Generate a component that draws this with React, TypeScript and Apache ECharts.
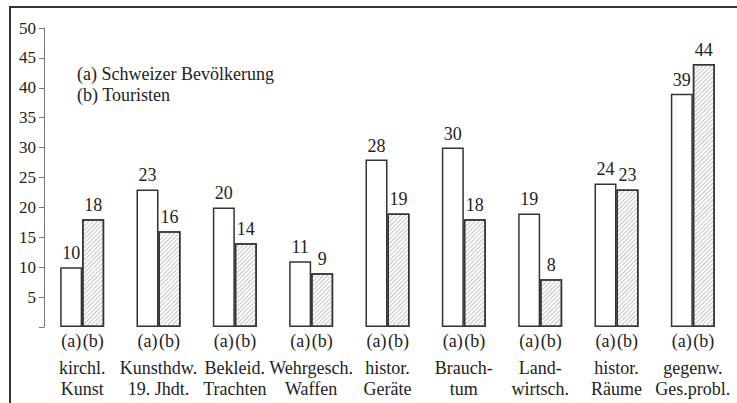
import React, { useEffect, useRef } from 'react';
import * as echarts from 'echarts';

const categories = [
  'kirchl.\nKunst',
  'Kunsthdw.\n19. Jhdt.',
  'Bekleid.\nTrachten',
  'Wehrgesch.\nWaffen',
  'histor.\nGeräte',
  'Brauch-\ntum',
  'Land-\nwirtsch.',
  'histor.\nRäume',
  'gegenw.\nGes.probl.',
];
const seriesA = [10, 23, 20, 11, 28, 30, 19, 24, 39];
const seriesB = [18, 16, 14, 9, 19, 18, 8, 23, 44];
const seriesNames = ['(a) Schweizer Bevölkerung', '(b) Touristen'];
const barTags = ['(a)', '(b)'];
const yMin = 0;
const yMax = 50;
const yStep = 5;

const FONT = 'Liberation Serif, Times New Roman, serif';
const INK = '#222';

export default function App() {
  const ref = useRef<HTMLDivElement>(null);
  useEffect(() => {
    if (!ref.current) return;
    const chart = echarts.init(ref.current, undefined, { renderer: 'svg' });
    const valueLabel = {
      show: true,
      position: 'top',
      distance: 5,
      fontSize: 18,
      color: INK,
      fontFamily: FONT,
    };
    chart.setOption({
      animation: false,
      backgroundColor: '#fff',
      textStyle: { fontFamily: FONT, color: INK },
      graphic: [
        {
          type: 'rect',
          shape: { x: 10, y: 7, width: 800, height: 500 },
          style: { fill: 'none', stroke: '#333', lineWidth: 2 },
          silent: true,
        },
      ],
      legend: {
        orient: 'vertical',
        left: 72,
        top: 63,
        icon: 'none',
        itemWidth: 0,
        itemHeight: 0,
        itemGap: 0,
        padding: 0,
        selectedMode: false,
        data: seriesNames,
        textStyle: { fontSize: 18, color: INK, fontFamily: FONT, lineHeight: 21 },
      },
      grid: { left: 44, right: 6, top: 28, bottom: 76, containLabel: false },
      xAxis: {
        type: 'category',
        data: categories,
        axisLine: { show: false },
        axisTick: { show: false },
        axisLabel: {
          interval: 0,
          hideOverlap: false,
          margin: -3,
          color: INK,
          fontFamily: FONT,
          fontSize: 18,
          formatter: (v: string) => {
            const lines = v.split('\n');
            return `{t|${barTags[0]}}{t|${barTags[1]}}\n` + lines.map((l) => `{n|${l}}`).join('\n');
          },
          rich: {
            t: { width: 22, align: 'center', fontSize: 18, lineHeight: 33, fontFamily: FONT, color: INK },
            n: { fontSize: 18, lineHeight: 21, fontFamily: FONT, color: INK, align: 'center' },
          },
        },
      },
      yAxis: {
        type: 'value',
        min: yMin,
        max: yMax,
        interval: yStep,
        splitLine: { show: false },
        axisLine: { show: true, lineStyle: { color: '#777', width: 1 } },
        axisTick: { show: true, length: 5, lineStyle: { color: '#777', width: 1 } },
        axisLabel: {
          margin: 8,
          fontSize: 17,
          color: INK,
          fontFamily: FONT,
          formatter: (v: number) => (v === 0 ? '' : String(v)),
        },
      },
      series: [
        {
          type: 'bar',
          name: seriesNames[0],
          data: seriesA,
          barWidth: 22,
          barGap: '0%',
          itemStyle: { color: '#fff', borderColor: '#333', borderWidth: 1.5 },
          label: valueLabel,
        },
        {
          type: 'bar',
          name: seriesNames[1],
          data: seriesB,
          barWidth: 22,
          barGap: '0%',
          itemStyle: {
            color: '#fff',
            borderColor: '#333',
            borderWidth: 1.5,
            decal: {
              symbol: 'rect',
              symbolSize: 1,
              dashArrayX: [1, 0],
              dashArrayY: [1, 2],
              rotation: -Math.PI / 4,
              color: '#c4c4c4',
            },
          },
          label: valueLabel,
        },
      ],
    });
    return () => chart.dispose();
  }, []);
  return (
    <div
      ref={ref}
      style={{ position: 'fixed', left: 0, top: 0, width: 737, height: 403 }}
    />
  );
}
